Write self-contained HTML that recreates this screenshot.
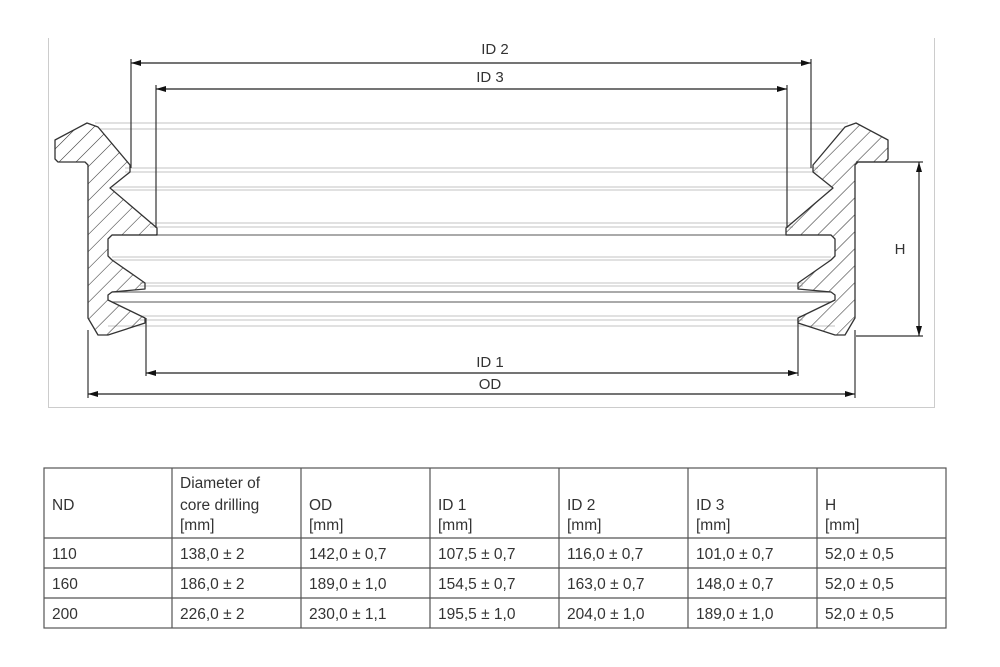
<!DOCTYPE html>
<html><head><meta charset="utf-8"><style>
body{margin:0;background:#fff;width:1000px;height:662px;overflow:hidden;font-family:"Liberation Sans",sans-serif;}
</style></head><body>
<svg width="1000" height="662" viewBox="0 0 1000 662" xmlns="http://www.w3.org/2000/svg" font-family="Liberation Sans, sans-serif">
<defs>
<pattern id="h" patternUnits="userSpaceOnUse" width="12" height="12" patternTransform="rotate(45)">
<line x1="0" y1="0" x2="0" y2="12" stroke="#333" stroke-width="1.1"/>
</pattern>
<marker id="a" viewBox="0 0 10 6" refX="10" refY="3" markerWidth="10" markerHeight="6" orient="auto-start-reverse" markerUnits="userSpaceOnUse">
<path d="M0,0 L10,3 L0,6 z" fill="#111"/>
</marker>
</defs>
<path d="M48.5,38 V407.5 H934.5 V38" fill="none" stroke="#ccc" stroke-width="1"/>
<g stroke="#cfcfcf" stroke-width="1.2">
<line x1="95" y1="123" x2="848" y2="123"/><line x1="100" y1="129" x2="843" y2="129"/>
<line x1="125" y1="168" x2="818" y2="168"/><line x1="125" y1="172" x2="818" y2="172"/>
<line x1="112" y1="187" x2="831" y2="187"/><line x1="112" y1="190" x2="831" y2="190"/>
<line x1="150" y1="223" x2="793" y2="223"/><line x1="150" y1="227" x2="793" y2="227"/>
<line x1="112" y1="257" x2="831" y2="257"/><line x1="112" y1="260" x2="831" y2="260"/>
<line x1="140" y1="283" x2="803" y2="283"/><line x1="140" y1="286" x2="803" y2="286"/>
<line x1="140" y1="316" x2="803" y2="316"/><line x1="140" y1="320" x2="803" y2="320"/>
<line x1="108" y1="326" x2="835" y2="326"/>
</g>
<g stroke="#777" stroke-width="1.2">
<line x1="112" y1="235" x2="831" y2="235"/>
<line x1="112" y1="292" x2="831" y2="292"/><line x1="112" y1="302" x2="831" y2="302"/>
</g>
<g fill="url(#h)" stroke="#333" stroke-width="1.3" stroke-linejoin="round">
<polygon points="55,140 87,123 98,127 130,165 130,172 110,188 157,228 157,235 112,235 108,239 108,256 112,260 145,283 145,289 112,292 108,295 108,300 112,302 145,318 145,323 108,335 98,335 88,318 88,165 85,162 58,162 55,159"/>
<polygon points="888,140 856,123 845,127 813,165 813,172 833,188 786,228 786,235 831,235 835,239 835,256 831,260 798,283 798,289 831,292 835,295 835,300 831,302 798,318 798,323 835,335 845,335 855,318 855,165 858,162 885,162 888,159"/>
</g>
<g stroke="#333" stroke-width="1.2">
<line x1="131" y1="59" x2="131" y2="168"/><line x1="811" y1="59" x2="811" y2="168"/>
<line x1="156" y1="85" x2="156" y2="228"/><line x1="787" y1="85" x2="787" y2="228"/>
<line x1="146" y1="318" x2="146" y2="376"/><line x1="798" y1="318" x2="798" y2="376"/>
<line x1="88" y1="330" x2="88" y2="398"/><line x1="855" y1="330" x2="855" y2="398"/>
<line x1="856" y1="162" x2="923" y2="162"/><line x1="856" y1="336" x2="923" y2="336"/>
</g>
<g stroke="#222" stroke-width="1.2" marker-start="url(#a)" marker-end="url(#a)">
<line x1="131" y1="63" x2="811" y2="63"/>
<line x1="156" y1="89" x2="787" y2="89"/>
<line x1="146" y1="373" x2="798" y2="373"/>
<line x1="88" y1="394" x2="855" y2="394"/>
<line x1="919" y1="162" x2="919" y2="336"/>
</g>
<g fill="#333" font-size="15" text-anchor="middle">
<text x="495" y="54">ID 2</text>
<text x="490" y="82">ID 3</text>
<text x="490" y="367">ID 1</text>
<text x="490" y="389">OD</text>
<text x="900" y="254">H</text>
</g>
<g stroke="#555" stroke-width="1.2" fill="none">
<rect x="44" y="468" width="902" height="160"/>
<line x1="44" y1="538" x2="946" y2="538"/>
<line x1="44" y1="568" x2="946" y2="568"/>
<line x1="44" y1="598" x2="946" y2="598"/>
<line x1="172" y1="468" x2="172" y2="628"/>
<line x1="301" y1="468" x2="301" y2="628"/>
<line x1="430" y1="468" x2="430" y2="628"/>
<line x1="559" y1="468" x2="559" y2="628"/>
<line x1="688" y1="468" x2="688" y2="628"/>
<line x1="817" y1="468" x2="817" y2="628"/>
</g>
<g fill="#333" font-size="15.5">
<text x="52" y="510">ND</text>
<text x="180" y="488">Diameter of</text>
<text x="180" y="510">core drilling</text>
<text x="180" y="530">[mm]</text>
<text x="309" y="510">OD</text><text x="309" y="530">[mm]</text>
<text x="438" y="510">ID 1</text><text x="438" y="530">[mm]</text>
<text x="567" y="510">ID 2</text><text x="567" y="530">[mm]</text>
<text x="696" y="510">ID 3</text><text x="696" y="530">[mm]</text>
<text x="825" y="510">H</text><text x="825" y="530">[mm]</text>
<text x="52" y="559">110</text><text x="180" y="559">138,0 ± 2</text><text x="309" y="559">142,0 ± 0,7</text><text x="438" y="559">107,5 ± 0,7</text><text x="567" y="559">116,0 ± 0,7</text><text x="696" y="559">101,0 ± 0,7</text><text x="825" y="559">52,0 ± 0,5</text>
<text x="52" y="589">160</text><text x="180" y="589">186,0 ± 2</text><text x="309" y="589">189,0 ± 1,0</text><text x="438" y="589">154,5 ± 0,7</text><text x="567" y="589">163,0 ± 0,7</text><text x="696" y="589">148,0 ± 0,7</text><text x="825" y="589">52,0 ± 0,5</text>
<text x="52" y="619">200</text><text x="180" y="619">226,0 ± 2</text><text x="309" y="619">230,0 ± 1,1</text><text x="438" y="619">195,5 ± 1,0</text><text x="567" y="619">204,0 ± 1,0</text><text x="696" y="619">189,0 ± 1,0</text><text x="825" y="619">52,0 ± 0,5</text>
</g>
</svg>
</body></html>
